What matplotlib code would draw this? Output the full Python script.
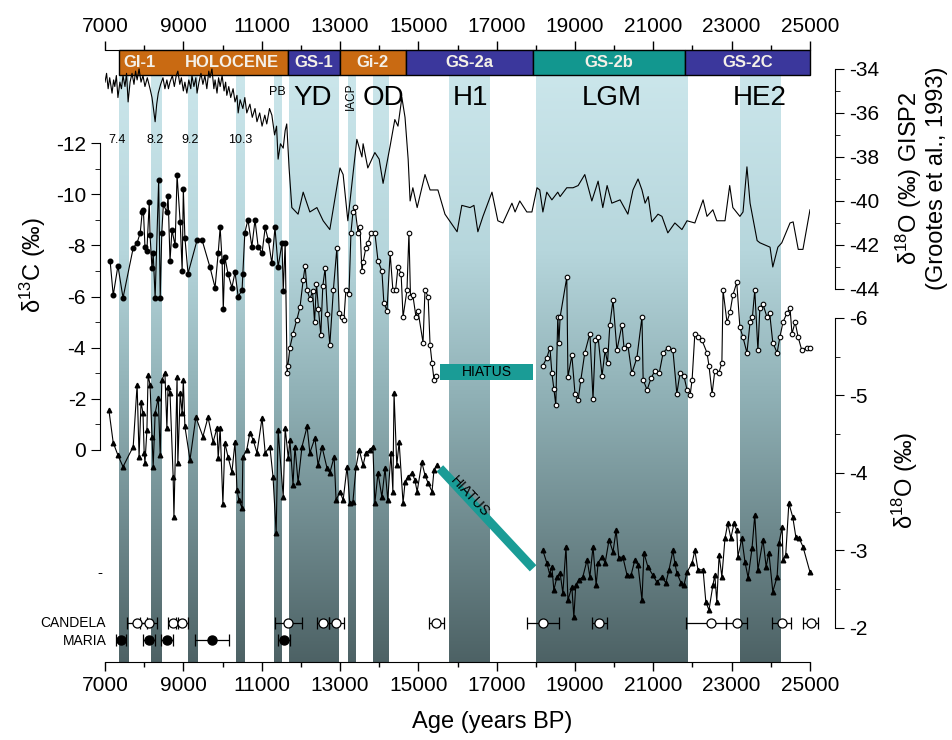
import numpy as np
import matplotlib
matplotlib.use("Agg")
import matplotlib.pyplot as plt
from matplotlib.colors import LinearSegmentedColormap
from matplotlib.patches import Rectangle
from matplotlib.ticker import FixedLocator

plt.rcParams['font.family'] = ['Liberation Sans', 'DejaVu Sans']
plt.rcParams['mathtext.fontset'] = 'custom'
plt.rcParams['mathtext.rm'] = 'Liberation Sans'
plt.rcParams['mathtext.it'] = 'Liberation Sans:italic'
plt.rcParams['axes.unicode_minus'] = False

# ---- data (ages in years BP) ----
# GISP2 d18O (Grootes et al., 1993)
gisp_age = [7000, 7040, 7080, 7120, 7180, 7220, 7250, 7290, 7330, 7380, 7420, 7460, 7510, 7550,
            7590, 7640, 7690, 7740, 7780, 7820, 7870, 7920, 7970, 8020, 8080, 8150, 8200, 8250,
            8280, 8320, 8360, 8420, 8480, 8530, 8580, 8620, 8660, 8720, 8770, 8820, 8860, 8910,
            8950, 9000, 9040, 9090, 9140, 9190, 9220, 9270, 9320, 9350, 9400, 9450, 9500, 9550,
            9600, 9650, 9680, 9730, 9780, 9810, 9860, 9900, 9940, 9990, 10040, 10080, 10110,
            10160, 10210, 10270, 10320, 10370, 10400, 10450, 10520, 10570, 10620, 10700, 10760,
            10830, 10880, 10950, 11010, 11080, 11130, 11200, 11260, 11330, 11380, 11420, 11480,
            11550, 11600, 11640, 11700, 11770, 11930, 12060, 12230, 12410, 12570, 12740, 13000,
            13080, 13200, 13430, 13560, 13590, 13710, 13890, 14000, 14100, 14280, 14400, 14480,
            14580, 14660, 14740, 14790, 14860, 14970, 15170, 15300, 15500, 15680, 15990, 16110,
            16320, 16420, 16520, 16650, 16880, 17030, 17160, 17390, 17470, 17590, 17770, 17900,
            18030, 18100, 18180, 18280, 18410, 18560, 18620, 18790, 18950, 19080, 19250, 19430,
            19590, 19710, 19820, 19940, 20150, 20350, 20480, 20610, 20710, 20790, 20870, 20960,
            21120, 21220, 21370, 21550, 21730, 21860, 22060, 22270, 22370, 22520, 22620, 22830,
            22950, 23030, 23210, 23290, 23390, 23470, 23650, 23720, 23980, 24050, 24180, 24280,
            24490, 24570, 24700, 24820, 25000]
gisp_val = [-34.6, -34.2, -34.9, -34.4, -35.1, -34.5, -34.8, -34.3, -35.3, -34.6, -34.9, -34.3,
            -34.8, -34.2, -35.5, -34.6, -34.2, -34.7, -34.1, -34.5, -34.0, -34.6, -34.3, -34.8,
            -34.4, -34.9, -35.3, -36.0, -36.4, -35.6, -35.1, -34.7, -34.4, -34.9, -34.5, -34.9,
            -34.6, -34.3, -34.8, -34.3, -34.1, -34.7, -34.4, -35.0, -34.6, -35.1, -34.5, -34.9,
            -34.3, -34.8, -34.4, -35.1, -34.6, -34.2, -34.7, -34.3, -34.9, -34.1, -34.4, -34.0,
            -34.9, -34.5, -35.1, -34.4, -34.8, -34.3, -35.0, -34.6, -35.2, -34.8, -35.3, -34.9,
            -35.5, -35.2, -36.0, -35.4, -35.8, -35.3, -36.0, -35.6, -36.2, -35.8, -36.4, -36.0,
            -36.6, -36.1, -36.5, -35.8, -36.1, -37.0, -36.6, -38.1, -37.4, -37.6, -36.8, -36.5,
            -38.5, -40.3, -40.6, -39.6, -40.5, -40.3, -40.9, -41.3, -38.5, -38.8, -40.9, -37.2,
            -38.0, -37.4, -38.5, -37.8, -38.1, -39.2, -37.5, -36.3, -36.6, -35.3, -36.2, -38.1,
            -40.0, -39.4, -40.3, -38.8, -39.5, -39.5, -40.6, -41.4, -40.2, -40.3, -40.2, -41.4,
            -40.7, -39.6, -40.9, -41.0, -40.1, -40.5, -40.0, -40.5, -40.5, -39.4, -39.5, -40.5,
            -39.6, -39.95, -39.6, -39.8, -39.4, -39.4, -39.3, -38.8, -40.0, -39.1, -40.3, -39.3,
            -40.1, -39.95, -40.6, -39.5, -39.0, -39.5, -40.1, -39.8, -40.95, -40.6, -40.7, -41.45,
            -41.0, -41.3, -40.9, -41.0, -39.95, -40.7, -40.4, -40.9, -40.9, -39.3, -40.3, -40.7,
            -40.5, -38.45, -40.1, -41.8, -41.9, -42.1, -43.0, -42.1, -41.9, -41.0, -40.95, -42.2,
            -42.2, -40.4]

# d13C, before the hiatus (filled markers up to 11600 BP, open after)
c13_age_a = [7130, 7210, 7330, 7460, 7720, 7820, 7900, 7950, 7980, 8020, 8070, 8130, 8150, 8200,
             8230, 8280, 8370, 8410, 8450, 8490, 8580, 8610, 8660, 8710, 8790, 8840, 8920, 8970,
             9000, 9040, 9120, 9350, 9480, 9680, 9810, 9890, 9940, 9990, 10020, 10060, 10140,
             10240, 10320, 10400, 10500, 10520, 10570, 10650, 10750, 10830, 10910, 11010, 11090,
             11170, 11260, 11340, 11420, 11520, 11550, 11600,
             11650, 11670, 11720, 11800, 11900, 11980, 12060, 12110, 12160, 12230, 12300, 12350,
             12400, 12450, 12510, 12560, 12620, 12680, 12740, 12830, 12920, 12980, 13040, 13100,
             13150, 13230, 13280, 13330, 13380, 13460, 13510, 13560, 13590, 13660, 13720, 13790,
             13890, 13970, 14070, 14120, 14200, 14280, 14350, 14420, 14480, 14560, 14610, 14710,
             14760, 14800, 14860, 14940, 14990, 15120, 15170, 15250, 15300, 15350, 15400, 15450]
c13_val_a = [-7.4, -6.05, -7.2, -5.95, -7.9, -8.1, -8.5, -9.3, -9.4, -7.95, -7.8, -9.7, -8.4, -7.1,
             -7.7, -5.95, -10.55, -5.95, -8.5, -9.6, -9.3, -9.95, -7.4, -8.6, -8.0, -10.75, -8.9,
             -7.0, -10.2, -8.3, -6.9, -8.2, -8.2, -7.15, -6.35, -7.7, -8.7, -7.4, -5.5, -7.55,
             -6.9, -6.35, -6.95, -6.0, -6.25, -6.9, -8.5, -9.0, -7.95, -9.0, -7.95, -7.7, -8.7,
             -8.2, -7.3, -8.7, -7.15, -8.1, -6.2, -8.1,
             -3.0, -3.3, -4.0, -4.55, -5.1, -5.6, -6.65, -7.2, -6.25, -5.9, -6.2, -5.0, -6.5,
             -5.5, -4.5, -6.4, -7.1, -5.3, -4.1, -6.25, -7.9, -5.35, -5.2, -5.1, -6.25, -6.1,
             -8.5, -9.3, -9.5, -8.5, -8.7, -7.0, -7.35, -7.9, -8.1, -8.5, -8.5, -7.4, -7.0,
             -5.75, -5.45, -7.7, -6.25, -6.25, -7.15, -6.9, -5.2, -6.25, -8.5, -6.0, -6.05, -5.2,
             -5.45, -4.2, -6.25, -6.0, -4.1, -3.4, -2.75, -2.9]
c13_filled_until = 11600

# d13C, after the hiatus
c13_age_b = [18180, 18280, 18360, 18410, 18460, 18510, 18560, 18590, 18620, 18790, 18820, 18920,
             19000, 19080, 19150, 19250, 19380, 19460, 19520, 19590, 19690, 19770, 19830, 19890,
             19970, 20070, 20200, 20250, 20350, 20450, 20580, 20710, 20740, 20840, 20940, 21040,
             21150, 21250, 21370, 21500, 21600, 21680, 21780, 21860, 21940, 21990, 22060, 22140,
             22240, 22370, 22420, 22500, 22570, 22670, 22750, 22780, 22880, 22960, 23030, 23130,
             23210, 23290, 23390, 23470, 23530, 23590, 23670, 23720, 23800, 23900, 23970, 24050,
             24160, 24230, 24310, 24410, 24490, 24540, 24620, 24700, 24790, 24920, 25000]
c13_val_b = [-3.3, -3.6, -4.0, -3.0, -2.4, -1.75, -5.2, -4.2, -5.2, -6.75, -2.85, -3.7, -2.2, -1.95,
             -2.75, -3.8, -4.55, -2.0, -4.3, -4.4, -2.9, -3.9, -3.4, -4.9, -5.85, -3.9, -4.9, -4.0,
             -4.1, -3.0, -3.6, -5.2, -2.75, -2.35, -2.8, -3.1, -3.0, -3.8, -4.0, -3.9, -2.2, -3.0,
             -2.9, -2.35, -2.15, -2.75, -4.55, -4.4, -4.3, -3.8, -3.3, -2.2, -3.1, -3.0, -3.4,
             -6.25, -5.0, -5.4, -6.05, -6.55, -4.8, -4.4, -3.8, -5.0, -5.2, -6.25, -3.9, -5.55,
             -5.7, -5.2, -5.35, -4.2, -3.8, -4.4, -5.0, -5.35, -5.55, -4.55, -5.0, -4.4, -3.9,
             -4.0, -4.0]

# d18O, before the hiatus
o18_age_a = [7100, 7210, 7330, 7460, 7720, 7820, 7870, 7920, 7970, 8000, 8020, 8070, 8100, 8150,
             8200, 8230, 8280, 8360, 8410, 8450, 8530, 8580, 8610, 8660, 8740, 8760, 8840, 8860,
             8920, 8970, 9000, 9040, 9170, 9320, 9500, 9630, 9760, 9860, 9890, 9940, 10010, 10060,
             10140, 10240, 10320, 10370, 10420, 10500, 10520, 10620, 10700, 10780, 10880, 11010,
             11090, 11210, 11290, 11370, 11420, 11550, 11600, 11680, 11720, 11800, 11850, 11930,
             12030, 12160, 12230, 12360, 12440, 12540, 12670, 12740, 12850, 12900, 13000, 13080,
             13180, 13250, 13330, 13410, 13490, 13590, 13660, 13770, 13840, 13890, 13970, 14070,
             14150, 14220, 14300, 14350, 14380, 14450, 14510, 14610, 14660, 14740, 14840, 14910,
             14970, 15090, 15170, 15250, 15350, 15400, 15480]
o18_val_a = [-4.81, -4.39, -4.23, -4.08, -4.34, -5.14, -4.21, -4.92, -4.77, -4.26, -4.13, -4.55,
             -5.26, -5.14, -4.47, -4.08, -4.77, -4.97, -4.23, -5.2, -5.29, -4.58, -5.11, -5.03,
             -3.95, -3.43, -5.24, -4.13, -5.03, -4.77, -5.2, -4.6, -4.17, -4.72, -4.47, -4.72,
             -4.4, -4.58, -4.19, -4.58, -3.6, -4.39, -4.21, -4.01, -4.4, -3.78, -3.65, -3.55,
             -4.21, -4.3, -4.52, -4.43, -4.26, -4.71, -4.26, -4.34, -3.95, -3.23, -4.55, -3.69,
             -4.58, -4.19, -4.43, -3.85, -4.34, -3.88, -4.34, -4.6, -4.26, -4.45, -4.1, -4.34,
             -4.06, -4.0, -4.21, -3.65, -3.76, -3.65, -4.08, -3.61, -3.63, -4.08, -4.3, -4.1,
             -4.26, -4.3, -4.34, -3.61, -4.0, -3.69, -4.06, -3.65, -4.26, -3.76, -5.03, -4.1,
             -4.4, -3.61, -3.88, -3.95, -4.0, -3.91, -3.76, -4.14, -3.97, -3.87, -3.76, -4.04,
             -4.1]

# d18O, after the hiatus
o18_age_b = [18180, 18280, 18350, 18410, 18460, 18540, 18620, 18690, 18770, 18820, 18920, 18970,
             19020, 19100, 19200, 19310, 19380, 19460, 19540, 19590, 19690, 19770, 19870, 19970,
             20050, 20120, 20220, 20330, 20430, 20530, 20610, 20710, 20760, 20860, 20990, 21090,
             21220, 21320, 21400, 21500, 21550, 21600, 21710, 21780, 21860, 21990, 22060, 22140,
             22270, 22340, 22420, 22520, 22570, 22620, 22680, 22750, 22830, 22900, 22980, 23060,
             23130, 23160, 23260, 23340, 23420, 23520, 23590, 23670, 23800, 23880, 23950, 24050,
             24160, 24210, 24290, 24310, 24380, 24460, 24560, 24640, 24720, 24820, 25000]
o18_val_b = [-3.0, -2.84, -2.7, -2.79, -2.49, -2.66, -2.71, -2.45, -3.05, -2.36, -2.53, -2.14,
             -2.55, -2.62, -2.66, -2.88, -2.66, -3.05, -2.55, -2.84, -2.92, -2.84, -3.14, -2.98,
             -3.26, -2.9, -2.92, -2.68, -2.68, -2.88, -2.81, -2.36, -2.97, -2.79, -2.68, -2.59,
             -2.66, -2.58, -2.75, -3.0, -2.84, -2.71, -2.58, -2.55, -2.72, -2.84, -3.0, -2.75,
             -2.75, -2.34, -2.23, -2.55, -2.68, -2.34, -2.94, -2.66, -3.16, -3.35, -3.16, -3.35,
             -3.26, -2.92, -3.16, -2.85, -2.65, -3.03, -3.46, -2.75, -3.14, -2.79, -2.97, -2.47,
             -2.66, -3.1, -3.3, -2.88, -2.94, -3.61, -3.43, -3.17, -3.16, -3.05, -2.72]

# U/Th dates
cand_age = [7820, 8120, 8740, 8970, 11680, 12560, 12910, 15460, 18180, 19620, 22470, 23130, 24280, 25020]
cand_err_lo = [250, 220, 130, 150, 350, 150, 180, 200, 410, 195, 640, 265, 245, 190]
cand_err_hi = [250, 220, 130, 150, 350, 150, 180, 200, 410, 195, 390, 265, 245, 190]
maria_age = [7410, 8120, 8580, 9730, 11570]
maria_err = [120, 150, 150, 430, 160]

# climatic events (shaded) and stadial/interstadial bar
bands = [(7357, 7612), (8173, 8430), (9117, 9347), (10342, 10571), (11311, 11490),
         (11694, 12969), (13199, 13378), (13837, 14245), (15776, 16821), (17995, 21872),
         (23224, 24270)]
periods = [(7357, 11668, '#c96a12'), (11668, 12995, '#3b379c'), (12995, 14680, '#c96a12'),
           (14680, 17918, '#3b379c'), (17918, 21796, '#12978f'), (21796, 25000, '#3b379c')]
period_labels = [(7890, 'GI-1'), (10240, 'HOLOCENE'), (12330, 'GS-1'), (13840, 'Gi-2'),
                 (16300, 'GS-2a'), (19860, 'GS-2b'), (23400, 'GS-2C')]
small_events = [(7300, '7.4'), (8280, '8.2'), (9170, '9.2'), (10450, '10.3')]
big_events = [(12310, 'YD'), (14100, 'OD'), (16320, 'H1'), (19940, 'LGM'), (23720, 'HE2')]

hiatus_top = (15550, 17930, -3.36, -2.73)     # on d13C axis
hiatus_low = (15550, 17930, -4.06, -2.77)     # on d18O axis
teal = '#1a9c96'

age_major = list(range(7000, 25001, 2000))
age_minor = list(range(8000, 25000, 2000))

# ---- figure ----
fig = plt.figure(figsize=(9.53, 7.40), dpi=100)
rect = [105 / 953, 78 / 740, 705 / 953, 612 / 740]
ax = fig.add_axes(rect)
ax.set_xlim(7000, 25000)
ax.set_ylim(0, 1)
ax.spines['left'].set_visible(False)
ax.spines['right'].set_visible(False)
ax.set_yticks([])
ax.xaxis.set_major_locator(FixedLocator(age_major))
ax.xaxis.set_minor_locator(FixedLocator(age_minor))
ax.tick_params(axis='x', which='both', top=True, labeltop=True, direction='out', labelsize=15,
               width=1)
ax.tick_params(axis='x', which='major', length=6.5)
ax.tick_params(axis='x', which='minor', length=3.5)

hdr = 0.959
band_cmap = LinearSegmentedColormap.from_list(
    'band', [(0, '#cbe6eb'), (0.3, '#b6d6dc'), (0.55, '#8fb0b5'), (1, '#4d6265')])
grad = np.linspace(0, 1, 256).reshape(-1, 1)
for x0, x1 in bands:
    ax.imshow(grad, extent=(x0, x1, 0, hdr), cmap=band_cmap, aspect='auto',
              interpolation='bilinear', origin='upper', zorder=0)

for x0, x1, col in periods:
    ax.add_patch(Rectangle((x0, hdr), x1 - x0, 1 - hdr, facecolor=col, edgecolor='black',
                           lw=1, clip_on=False, zorder=3))
for x, lab in period_labels:
    ax.text(x, (1 + hdr) / 2, lab, ha='center', va='center', color='#f4f0e8', fontsize=12,
            fontweight='bold', zorder=4)

for x, lab in small_events:
    ax.text(x, 0.853, lab, ha='center', va='center', fontsize=9, zorder=4)
for x, lab in big_events:
    ax.text(x, 0.921, lab, ha='center', va='center', fontsize=20, zorder=4)
ax.text(11410, 0.931, 'PB', ha='center', va='center', fontsize=9, zorder=4)
ax.text(13290, 0.924, 'IACP', ha='center', va='center', fontsize=8.5, rotation=90, zorder=4)

# dates
cand_row, maria_row = 0.064, 0.036
eb = ax.errorbar(cand_age, [cand_row] * len(cand_age), xerr=[cand_err_lo, cand_err_hi], fmt='o',
                 ms=6.5, mfc='white', mec='black', mew=0.9, ecolor='black', elinewidth=0.9,
                 capsize=4, capthick=0.9, zorder=5)
eb2 = ax.errorbar(maria_age, [maria_row] * len(maria_age), xerr=maria_err, fmt='o', ms=6.5,
                  mfc='black', mec='black', ecolor='black', elinewidth=0.9, capsize=4,
                  capthick=0.9, zorder=5)
for c in (eb, eb2):
    for art in c.get_children():
        art.set_clip_on(False)

ax.set_xlim(7000, 25000)
ax.set_ylim(0, 1)

# d13C axis (left)
ax_c = ax.twinx()
ax_c.set_ylim(8.29, -15.64)
for s in ['top', 'bottom', 'right']:
    ax_c.spines[s].set_visible(False)
ax_c.spines['left'].set_visible(True)
ax_c.spines['left'].set_position(('outward', 3.6))
ax_c.spines['left'].set_bounds(-12, 0)
ax_c.yaxis.tick_left()
ax_c.set_yticks(range(-12, 1, 2))
ax_c.set_yticks(range(-11, 0, 2), minor=True)
ax_c.tick_params(axis='y', which='both', direction='out', labelsize=15)
ax_c.tick_params(axis='y', which='major', length=6.5)
ax_c.tick_params(axis='y', which='minor', length=3.5)

c_age = np.array(c13_age_a)
c_val = np.array(c13_val_a)
filled = c_age <= c13_filled_until
ax_c.plot(c_age, c_val, color='black', lw=0.8, zorder=3)
ax_c.plot(c_age[filled], c_val[filled], 'o', ms=3.3, mfc='black', mec='black', zorder=4)
ax_c.plot(c_age[~filled], c_val[~filled], 'o', ms=3.3, mfc='white', mec='black', mew=0.8,
          zorder=4)
ax_c.plot(c13_age_b, c13_val_b, color='black', lw=0.8, marker='o', ms=3.3, mfc='white',
          mec='black', mew=0.8, clip_on=False, zorder=4)
hx0, hx1, hy0, hy1 = hiatus_top
ax_c.add_patch(Rectangle((hx0, hy0), hx1 - hx0, hy1 - hy0, facecolor=teal, edgecolor='none',
                         zorder=3))
ax_c.text((hx0 + hx1) / 2, (hy0 + hy1) / 2, 'HIATUS', ha='center', va='center', fontsize=10,
          zorder=5)
# stray tick left of the axis
ax_c.text(6880, 4.8, '-', ha='center', va='center', fontsize=11, clip_on=False)

# d18O axis (right, lower)
ax_o = ax.twinx()
ax_o.set_ylim(-1.561, -9.458)
for s in ['top', 'bottom', 'left']:
    ax_o.spines[s].set_visible(False)
ax_o.spines['right'].set_position(('outward', 18))
ax_o.spines['right'].set_bounds(-6, -2)
ax_o.set_yticks([-6, -5, -4, -3, -2])
ax_o.set_yticks([-5.5, -4.5, -3.5, -2.5], minor=True)
ax_o.tick_params(axis='y', which='both', direction='out', labelsize=15)
ax_o.tick_params(axis='y', which='major', length=6.5)
ax_o.tick_params(axis='y', which='minor', length=3.5)
ax_o.plot(o18_age_a, o18_val_a, color='black', lw=0.8, marker='^', ms=3.3, mfc='black',
          mec='black', zorder=4)
ax_o.plot(o18_age_b, o18_val_b, color='black', lw=0.8, marker='^', ms=3.3, mfc='black',
          mec='black', clip_on=False, zorder=4)
lx0, lx1, ly0, ly1 = hiatus_low
ax_o.plot([lx0, lx1], [ly0, ly1], color=teal, lw=6.5, solid_capstyle='butt', zorder=3)
ax_o.text(16320, -3.69, 'HIATUS', ha='center', va='center', fontsize=10, rotation=-47,
          zorder=5)

# GISP2 axis (right, upper)
ax_g = ax.twinx()
ax_g.set_ylim(-60.95, -33.14)
for s in ['top', 'bottom', 'left']:
    ax_g.spines[s].set_visible(False)
ax_g.spines['right'].set_position(('outward', 18))
ax_g.spines['right'].set_bounds(-44, -34)
ax_g.set_yticks(range(-44, -33, 2))
ax_g.set_yticks(range(-43, -34, 2), minor=True)
ax_g.tick_params(axis='y', which='both', direction='out', labelsize=15)
ax_g.tick_params(axis='y', which='major', length=6.5)
ax_g.tick_params(axis='y', which='minor', length=3.5)
ax_g.plot(gisp_age, gisp_val, color='black', lw=0.8, zorder=3)

ax.set_xlim(7000, 25000)

# labels
fig.text(492 / 953, 1 - 722 / 740, 'Age (years BP)', ha='center', va='center', fontsize=17)
fig.text(33 / 953, 1 - 265 / 740, 'δ$^{13}$C (‰)', rotation=90, ha='center', va='center',
         fontsize=17)
fig.text(921 / 953, 1 - 178 / 740, 'δ$^{18}$O (‰) GISP2\n(Grootes et al., 1993)', rotation=90,
         ha='center', va='center', fontsize=17, linespacing=1.1)
fig.text(905 / 953, 1 - 480 / 740, 'δ$^{18}$O (‰)', rotation=90, ha='center', va='center',
         fontsize=17)
fig.text(106 / 953, 1 - 623 / 740, 'CANDELA', ha='right', va='center', fontsize=10)
fig.text(107 / 953, 1 - 641 / 740, 'MARIA', ha='right', va='center', fontsize=10)

fig.savefig('out.png', dpi=100)
